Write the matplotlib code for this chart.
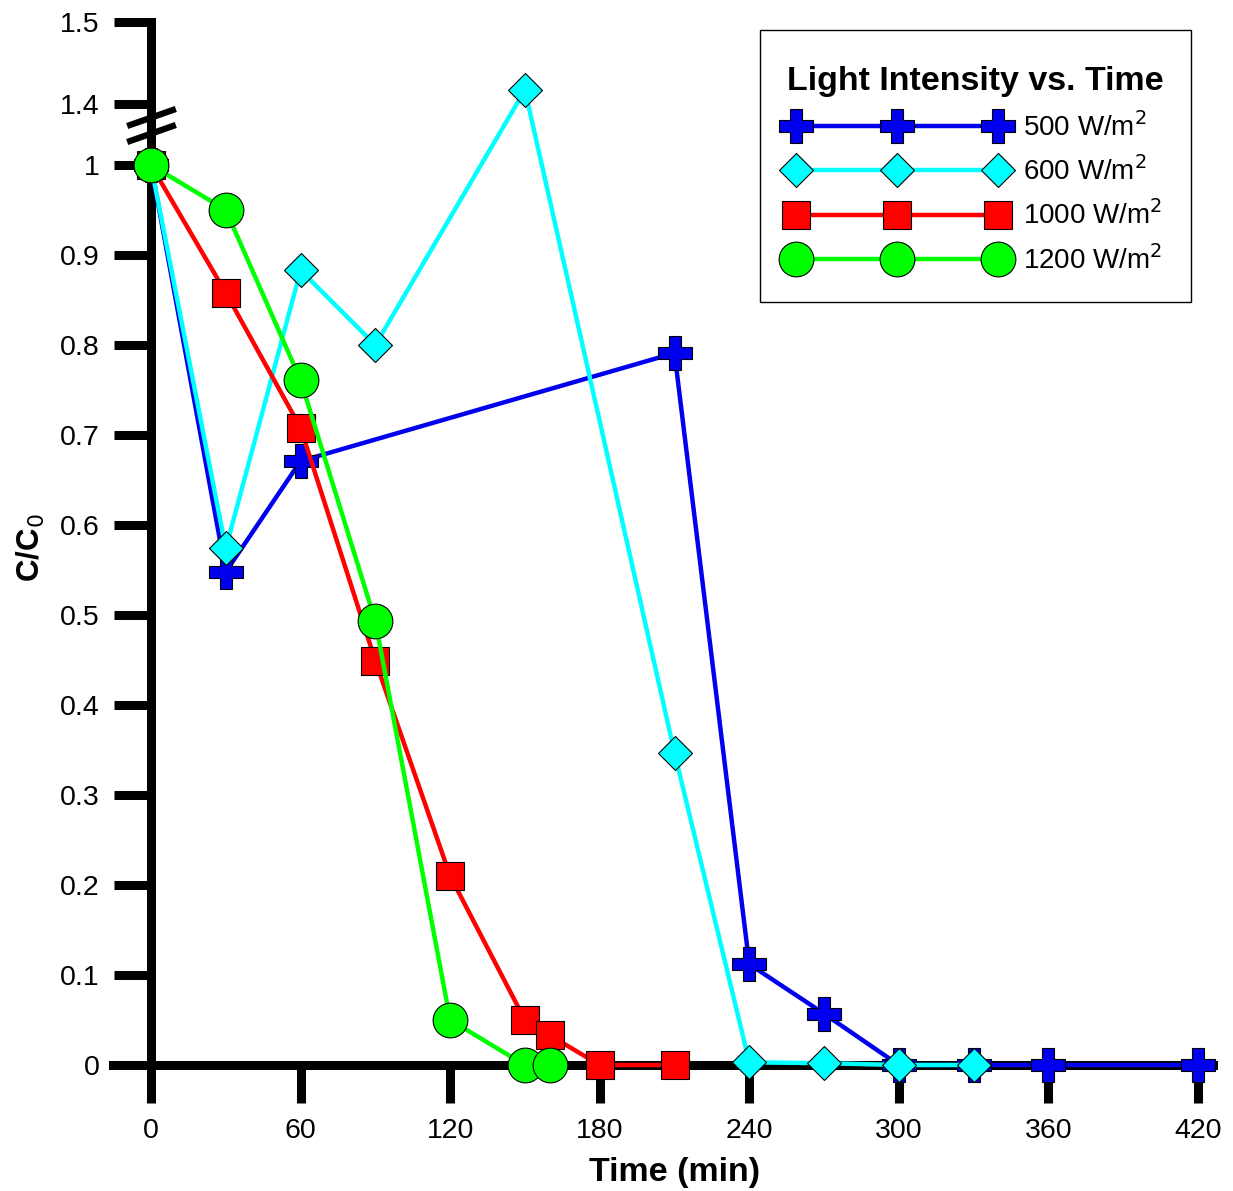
import numpy as np
import matplotlib
matplotlib.use("Agg")
import matplotlib.pyplot as plt

plt.rcParams['font.family'] = ['Liberation Sans', 'DejaVu Sans']

# 数据 (time in min, C/C0)
t_500 = [0, 30, 60, 210, 240, 270, 300, 330, 360, 420]
c_500 = [1.0, 0.548, 0.671, 0.791, 0.112, 0.057, 0.0, 0.0, 0.0, 0.0]
t_600 = [0, 30, 60, 90, 150, 210, 240, 270, 300, 330]
c_600 = [1.0, 0.574, 0.883, 0.800, 1.417, 0.347, 0.003, 0.002, 0.0, 0.0]
t_1000 = [0, 30, 60, 90, 120, 150, 160, 180, 210]
c_1000 = [1.0, 0.858, 0.708, 0.449, 0.210, 0.050, 0.033, 0.0, 0.0]
t_1200 = [0, 30, 60, 90, 120, 150, 160]
c_1200 = [1.0, 0.950, 0.761, 0.493, 0.050, 0.0, 0.0]

x_ticks = [0, 60, 120, 180, 240, 300, 360, 420]
y_ticks = [0, 0.1, 0.2, 0.3, 0.4, 0.5, 0.6, 0.7, 0.8, 0.9, 1, 1.4, 1.5]
y_ticklabels = ['0', '0.1', '0.2', '0.3', '0.4', '0.5', '0.6', '0.7', '0.8', '0.9', '1', '1.4', '1.5']

# 断轴: 0-1 正常, 1-1.4 压缩, 1.4-1.5
yb_data = [0, 1, 1.4, 1.5]
yb_scaled = [0, 1, 1 + 61 / 900, 1 + 61 / 900 + 82 / 900]


def fwd(y):
    return np.interp(y, yb_data, yb_scaled)


def inv(y):
    return np.interp(y, yb_scaled, yb_data)


fig = plt.figure(figsize=(12.33, 11.91), dpi=100)
W, H = 1233, 1191
ax = fig.add_axes([113 / W, 1 - 1065 / H, 1100 / W, 1043 / H])
ax.set_yscale('function', functions=(fwd, inv))

lw = 3.2
ax.plot(t_500, c_500, color='#0000EE', lw=lw, marker='P', ms=25, mfc='#0000EE', mec='k', mew=0.8,
        label='500 W/m$^2$', zorder=3, clip_on=False)
ax.plot(t_600, c_600, color='#00FFFF', lw=lw, marker='D', ms=17.5, mfc='#00FFFF', mec='k', mew=0.8,
        label='600 W/m$^2$', zorder=3, clip_on=False)
ax.plot(t_1000, c_1000, color='#FF0000', lw=lw, marker='s', ms=19.5, mfc='#FF0000', mec='k', mew=0.8,
        label='1000 W/m$^2$', zorder=3, clip_on=False)
ax.plot(t_1200, c_1200, color='#00FF00', lw=lw, marker='o', ms=25, mfc='#00FF00', mec='k', mew=0.8,
        label='1200 W/m$^2$', zorder=3, clip_on=False)

ax.set_xlim(-38 / (1047 / 420), 420 + 15 / (1047 / 420))
ax.set_ylim(0, 1.5)

ax.spines['top'].set_visible(False)
ax.spines['right'].set_visible(False)
ax.spines['left'].set_position(('data', 0))
for s in ['left', 'bottom']:
    ax.spines[s].set_linewidth(6.5)
    ax.spines[s].set_zorder(2)

ax.set_xticks(x_ticks)
ax.set_yticks(y_ticks)
ax.set_yticklabels(y_ticklabels)
ax.minorticks_off()
ax.tick_params(axis='both', direction='out', length=27, width=6.5, labelsize=20.5)
ax.tick_params(axis='y', pad=10)
ax.tick_params(axis='x', pad=11)

# 断轴标记
ax.plot([0, 0], [1.21, 1.315], ls='none', marker=[(-1, -0.35), (1, 0.35)], ms=35,
        mew=4.5, mec='k', mfc='k', clip_on=False, zorder=4)

ax.set_xlabel('Time (min)', fontsize=24.5, fontweight='bold')
ax.xaxis.set_label_coords((674.5 - 113) / 1100, -(1188 - 1065) / 1043)
ax.xaxis.label.set_va('bottom')
ax.set_ylabel('C/C$_0$', fontsize=22.5, fontweight='bold')
ax.yaxis.set_label_coords(-(113 - 47) / 1100, (1065 - 548) / 1043)

# 图例 (标题上方多留一点空白)
leg = ax.legend(loc='upper left', bbox_to_anchor=(760 / W, 1 - 30 / H), bbox_transform=fig.transFigure,
                title='\nLight Intensity vs. Time', fontsize=20, numpoints=3, handlelength=7.87,
                labelspacing=0.52, handletextpad=0.6, borderpad=0.97,
                borderaxespad=0, fancybox=False, framealpha=1, edgecolor='k',
                title_fontproperties={'size': 24.5, 'weight': 'bold'})
leg.get_title().set_linespacing(0.1)
leg.get_frame().set_linewidth(1.0)

fig.savefig('out.png', dpi=100)
